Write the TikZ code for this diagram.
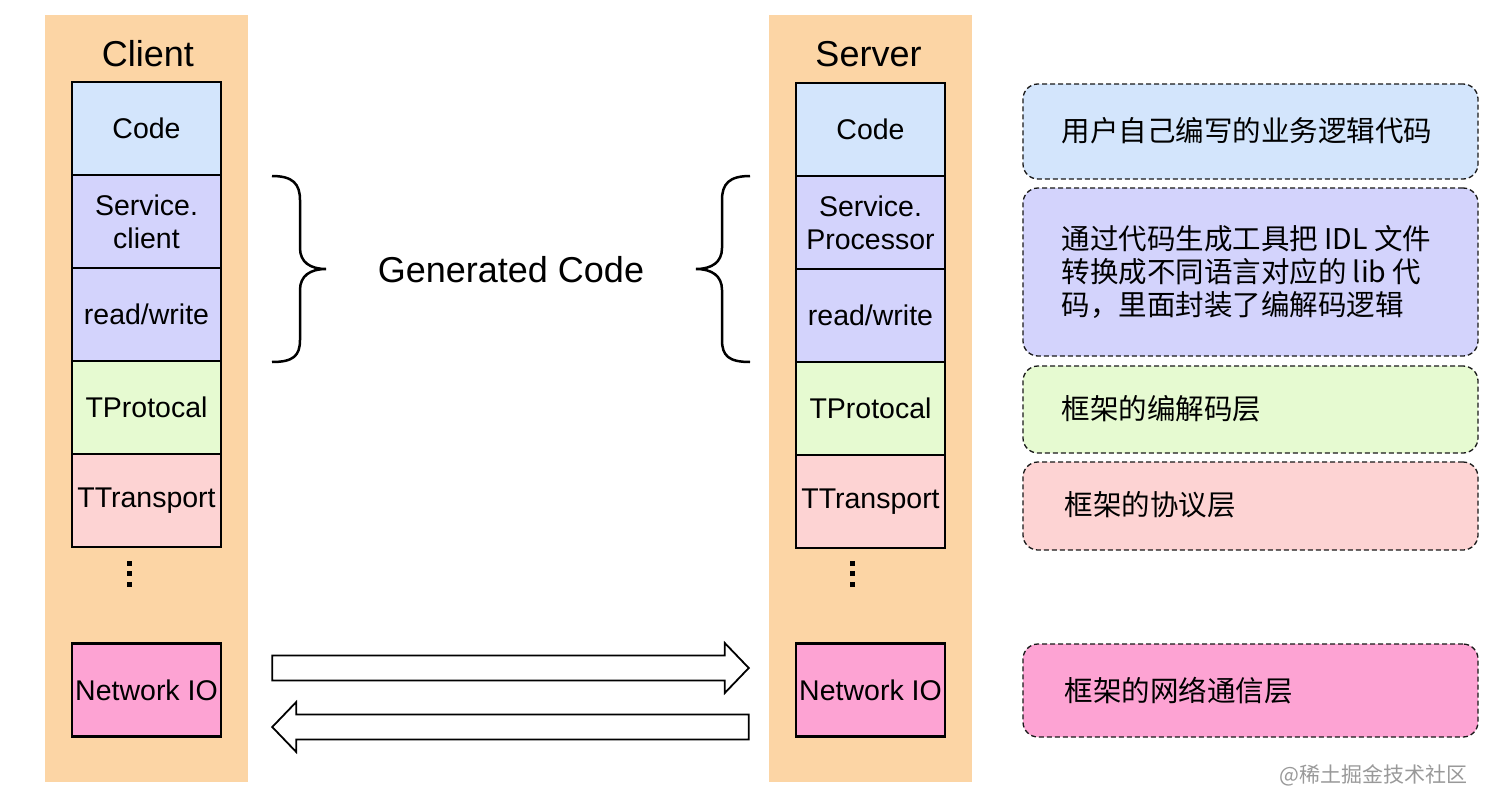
\documentclass[tikz,border=0pt]{standalone}
\usepackage{fontspec}
\setmainfont{Liberation Sans}
\newfontfamily\cjk{Noto Sans CJK SC}
\usetikzlibrary{positioning}
\usetikzlibrary{calc}

\definecolor{panelorange}{HTML}{FCD5A5}
\definecolor{codeblue}{HTML}{D3E5FC}
\definecolor{genpurple}{HTML}{D3D3FC}
\definecolor{protogreen}{HTML}{E6FAD1}
\definecolor{transpink}{HTML}{FDD3D3}
\definecolor{netpink}{HTML}{FDA3D3}

\begin{document}
\begin{tikzpicture}[x=1pt,y=-1pt,
    panel node/.style={fill=panelorange,minimum width=203pt,minimum height=767pt,inner sep=0pt},
    title node/.style={inner sep=0pt,font=\fontsize{36}{40}\selectfont},
    layer node/.style={draw=black,line width=2.5pt,minimum width=149pt,minimum height=93pt,inner sep=0pt,align=center,font=\fontsize{28.5}{33}\selectfont},
    note node/.style={draw=black!90,line width=1.3pt,dash pattern=on 5pt off 3pt,rounded corners=15pt,minimum width=455pt,inner sep=0pt},
    note text/.style={anchor=west,inner sep=0pt,align=left,font=\cjk\fontsize{28.5}{33}\selectfont},
    flow arrow/.style={draw=black,line width=1.8pt,fill=white,line join=miter},
    brace line/.style={draw=black,line width=2.5pt}]
  \useasboundingbox (0,0) rectangle (1491,808);

  % client side
  \node[panel node] (cpanel) at (146.5,398.5) {};
  \node[title node] (ctitle) at (148,54) {Client};
  \node[layer node,fill=codeblue] (ccode) at (146.5,128.5) {Code};
  \node[layer node,fill=genpurple] (cserv) at (146.5,221.5) {Service.\\client};
  \node[layer node,fill=genpurple] (crw) at (146.5,314.5) {read/write};
  \node[layer node,fill=protogreen] (cprot) at (146.5,407.5) {TProtocal};
  \node[layer node,fill=transpink] (ctrans) at (146.5,500.5) {TTransport};
  \node[layer node,fill=netpink] (cnet) at (146.5,690) {Network IO};

  % server side
  \node[panel node] (spanel) at (870,398.5) {};
  \node[title node] (stitle) at (868.5,54) {Server};
  \node[layer node,fill=codeblue] (scode) at (870.5,129.5) {Code};
  \node[layer node,fill=genpurple] (sserv) at (870.5,222.5) {Service.\\Processor};
  \node[layer node,fill=genpurple] (srw) at (870.5,315.5) {read/write};
  \node[layer node,fill=protogreen] (sprot) at (870.5,408.5) {TProtocal};
  \node[layer node,fill=transpink] (strans) at (870.5,501.5) {TTransport};
  \node[layer node,fill=netpink] (snet) at (870.5,690) {Network IO};

  % vertical dots
  \foreach \y in {563,573,584} {
    \fill (126.5,\y-2.5) rectangle (131.5,\y+2.5);
    \fill (849.5,\y-2.5) rectangle (854.5,\y+2.5);
  }

  % braces
  \draw[brace line] (272,176) .. controls (293,176) and (300,184) .. (300,200) -- (300,248)
     .. controls (300,262) and (310,269) .. (326,269) .. controls (310,269) and (300,276) .. (300,290)
     -- (300,340) .. controls (300,356) and (293,362) .. (272,362);
  \draw[brace line] (750,176) .. controls (729,176) and (722,184) .. (722,200) -- (722,248)
     .. controls (722,262) and (712,269) .. (696,269) .. controls (712,269) and (722,276) .. (722,290)
     -- (722,340) .. controls (722,356) and (729,362) .. (750,362);
  \node[title node] (gen) at (511,270) {Generated Code};

  % block arrows between the network layers
  \draw[flow arrow] ($(cnet.east)+(50,-34.5)$) -- ($(snet.west)+(-70,-34.5)$) -- ($(snet.west)+(-70,-47)$)
     -- ($(snet.west)+(-46,-22)$) -- ($(snet.west)+(-70,3)$) -- ($(snet.west)+(-70,-9.5)$)
     -- ($(cnet.east)+(50,-9.5)$) -- cycle;
  \draw[flow arrow] ($(snet.west)+(-46,24.5)$) -- ($(cnet.east)+(74,24.5)$) -- ($(cnet.east)+(74,12)$)
     -- ($(cnet.east)+(50,37)$) -- ($(cnet.east)+(74,62)$) -- ($(cnet.east)+(74,49.5)$)
     -- ($(snet.west)+(-46,49.5)$) -- cycle;

  % notes
  \node[note node,fill=codeblue,minimum height=95pt] (n1) at (1250.5,131.5) {};
  \node[note node,fill=genpurple,minimum height=168pt] (n2) at (1250.5,272) {};
  \node[note node,fill=protogreen,minimum height=87pt] (n3) at (1250.5,409.5) {};
  \node[note node,fill=transpink,minimum height=88pt] (n4) at (1250.5,506) {};
  \node[note node,fill=netpink,minimum height=93pt] (n5) at (1250.5,690.5) {};
  \node[note text] (t1) at ([xshift=39pt,yshift=1pt]n1.west) {用户自己编写的业务逻辑代码};
  \node[note text] (t2) at ([xshift=39pt]n2.west) {通过代码生成工具把 IDL 文件\\转换成不同语言对应的 lib 代\\码，里面封装了编解码逻辑};
  \node[note text] (t3) at ([xshift=39pt,yshift=1pt]n3.west) {框架的编解码层};
  \node[note text] (t4) at ([xshift=42pt,yshift=1pt]n4.west) {框架的协议层};
  \node[note text] (t5) at ([xshift=42pt]n5.west) {框架的网络通信层};

  \node[anchor=east,inner sep=0pt,text=black!40,font=\cjk\fontsize{21}{24}\selectfont] (mark) at (1468,775) {@稀土掘金技术社区};
\end{tikzpicture}
\end{document}
